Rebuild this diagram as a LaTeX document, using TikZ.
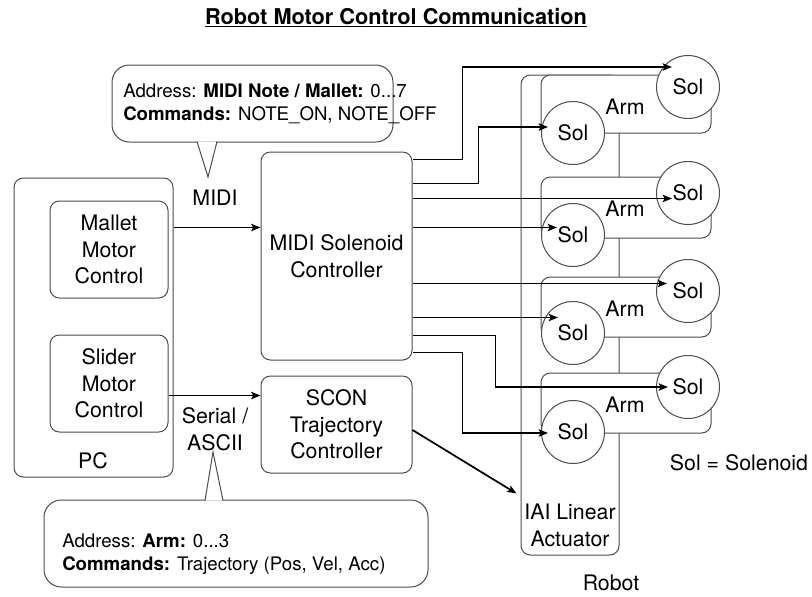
\documentclass[tikz,border=0pt]{standalone}
\usepackage{fontspec}
\setmainfont{TeX Gyre Heros}
\usetikzlibrary{arrows.meta,calc}

\begin{document}
\begin{tikzpicture}[
    x=0.75pt, y=-0.75pt,
    size/.style 2 args={minimum width={(#1)*0.75pt}, minimum height={(#2)*0.75pt}},
    box/.style={
        rectangle,
        rounded corners=7pt,
        draw=black!70,
        line width=0.75pt,
        fill=white,
        inner sep=0pt,
        align=center,
        font=\fontsize{16}{19.9}\selectfont
    },
    note/.style={box, rounded corners=13pt},
    sol/.style={
        circle,
        minimum size=47.25pt,
        draw=black!70,
        line width=0.75pt,
        fill=white,
        inner sep=0pt,
        font=\fontsize{16}{19.9}\selectfont
    },
    txt/.style={align=center, inner sep=0pt, font=\fontsize{16}{19.9}\selectfont},
    notetxt/.style={align=left, anchor=west, inner sep=0pt, font=\fontsize{14}{17.4}\selectfont},
    tail/.style={draw=black!70, line width=0.75pt, fill=white},
    arrow/.style={-{Stealth[length=7pt,width=5.5pt,inset=1.5pt]}, line width=1.3pt}
]
\useasboundingbox (0,0) rectangle (812,596);

\node[txt, font=\fontsize{16.3}{19}\selectfont\bfseries] (title) at (396,18) {\underline{Robot Motor Control Communication}};

\node[box, size={159}{299}] (pc) at (93.5,327.5) {};
\node[txt] (pclbl) at (93,461) {PC};
\node[box, size={118}{97}] (mallet) at (109,249.5) {Mallet\\Motor\\Control};
\node[box, size={118}{97}] (slider) at (109,383.5) {Slider\\Motor\\Control};

\node[box, size={151}{208}] (ctrl) at (336.5,256) {MIDI Solenoid\\Controller};
\node[box, size={151}{97}] (scon) at (336.5,424.5) {SCON\\Trajectory\\Controller};

\node[box, size={98}{480}] (iai) at (570,315) {};
\node[txt] (iailbl) at (570,525.5) {IAI Linear\\Actuator};

\foreach \i/\t/\b/\r/\l in {1/75/133/87/133, 2/177/238/193/235, 3/277/337/291/333, 4/373/433/387/432} {
    \node[box, size={170}{\b-\t}] (arm\i) at (626,{(\t+\b)/2}) {};
    \node[txt] (armlbl\i) at (625,\t+32) {Arm};
    \node[sol] (solR\i) at (688,\r) {Sol};
    \node[sol] (solL\i) at (573,\l) {Sol};
}

\node[txt] (midilbl) at (215,198) {MIDI};
\node[txt] (seriallbl) at (215,429) {Serial /\\ASCII};
\node[txt] (legend) at (739,463) {Sol = Solenoid};
\node[txt] (robot) at (611,583) {Robot};

\node[note, size={281}{77}] (midinote) at (252.5,103.5) {};
\node[notetxt] (midinotetxt) at (123,103.5) {Address: \textbf{MIDI Note / Mallet:} 0...7\\\textbf{Commands:} NOTE\_ON, NOTE\_OFF};
\coordinate (miditip) at (208,177);
\draw[tail] ($(midinote.south)+(-55.5,-1)$) -- (miditip) -- ($(midinote.south)+(-35.5,-1)$);

\node[note, size={384}{87}] (sernote) at (236,543.5) {};
\node[notetxt] (sernotetxt) at (62,554) {Address: \textbf{Arm:} 0...3\\\textbf{Commands:} Trajectory (Pos, Vel, Acc)};
\coordinate (sertip) at (213,452);
\draw[tail] ($(sernote.north)+(-31,1)$) -- (sertip) -- ($(sernote.north)+(-13,1)$);

\coordinate (midiout) at ($(pc.north east)+(0,50)$);
\draw[arrow] (midiout) -- (midiout -| ctrl.west);
\coordinate (serout) at ($(slider.north east)+(0,61)$);
\draw[arrow] (serout) -- (serout -| scon.west);
\draw[arrow] ($(scon.east)+(0,5.5)$) -- ($(iai.south west)+(-4,-62)$);

\foreach \i/\d in {1/8, 2/32, 3/47, 4/76, 5/132, 6/166, 7/184, 8/201} {
    \coordinate (out\i) at ($(ctrl.north east)+(0,\d)$);
}
\coordinate (in1) at ($(solR1)+(-16,-20)$);
\coordinate (in2) at ($(solL1)+(-25,-6)$);
\coordinate (in3) at ($(out3 -| solR2)+(-16,0)$);
\coordinate (in4) at ($(out4 -| solL2)+(-16,0)$);
\coordinate (in5) at ($(out5 -| solR3)+(-21,0)$);
\coordinate (in6) at ($(out6 -| solL3)+(-15,0)$);
\coordinate (in7) at ($(solR4)+(-20,0)$);
\coordinate (in8) at ($(solL4)+(-25,1)$);

\draw[arrow] (out1) -- ++(50,0) |- (in1);
\draw[arrow] (out2) -- ++(66,0) |- (in2);
\draw[arrow] (out3) -- (in3);
\draw[arrow] (out4) -- (in4);
\draw[arrow] (out5) -- (in5);
\draw[arrow] (out6) -- (in6);
\draw[arrow] (out7) -- ++(83,0) |- (in7);
\draw[arrow] (out8) -- ++(50,0) |- (in8);

\end{tikzpicture}
\end{document}
